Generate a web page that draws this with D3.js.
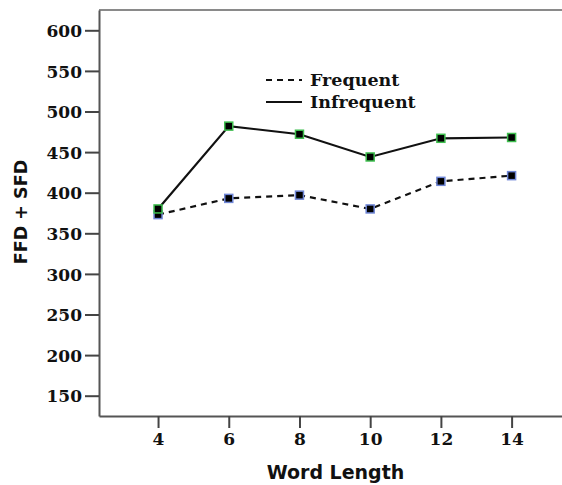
<!DOCTYPE html>
<html><head><meta charset="utf-8">
<script src="https://cdn.jsdelivr.net/npm/d3@7"></script>
<style>body{margin:0;background:#fff}svg{display:block}</style>
</head><body><svg id="c" width="562" height="485"></svg>
<script>
const wordLengths = [4, 6, 8, 10, 12, 14];
const frequent = [373, 393, 397, 380, 414, 421];
const infrequent = [380, 482, 472, 444, 467, 468];
const yTicks = [150, 200, 250, 300, 350, 400, 450, 500, 550, 600];
const seriesNames = ["Frequent", "Infrequent"];

const svg = d3.select("#c");
const x = d3.scaleLinear().domain([2.33, 16.5]).range([99, 600]);
const y = d3.scaleLinear().domain([125, 625]).range([416, 10]);

// top frame line
svg.append("line").attr("x1", 99).attr("x2", 562).attr("y1", 10).attr("y2", 10)
  .attr("stroke", "#8a8a8a").attr("stroke-width", 2);

const yAxis = d3.axisLeft(y).tickValues(yTicks).tickSize(14).tickSizeOuter(0).tickPadding(3);
const gy = svg.append("g").attr("transform", "translate(99,0)").call(yAxis);
gy.select(".domain").attr("stroke", "#555").attr("stroke-width", 2);
gy.selectAll(".tick line").attr("stroke", "#444").attr("stroke-width", 2);
gy.selectAll(".tick text").attr("font-family", "DejaVu Serif").attr("font-weight", "bold")
  .attr("font-size", 17).attr("fill", "#111").attr("dy", "0.36em");

const xAxis = d3.axisBottom(x).tickValues(wordLengths).tickSize(12).tickSizeOuter(0).tickPadding(5);
const gx = svg.append("g").attr("transform", "translate(0,416)").call(xAxis);
gx.select(".domain").attr("stroke", "#555").attr("stroke-width", 2);
gx.selectAll(".tick line").attr("stroke", "#444").attr("stroke-width", 2);
gx.selectAll(".tick text").attr("font-family", "DejaVu Serif").attr("font-weight", "bold")
  .attr("font-size", 17).attr("fill", "#111");

svg.append("text").attr("x", 335.5).attr("y", 479).attr("text-anchor", "middle")
  .attr("font-family", "DejaVu Sans").attr("font-weight", "bold").attr("font-size", 19)
  .attr("fill", "#111").text("Word Length");
svg.append("text").attr("transform", "translate(27,212) rotate(-90)").attr("text-anchor", "middle")
  .attr("font-family", "DejaVu Sans").attr("font-weight", "bold").attr("font-size", 17.5)
  .attr("fill", "#111").text("FFD + SFD");

const line = d3.line().x((d, i) => x(wordLengths[i])).y(d => y(d));
svg.append("path").datum(frequent).attr("d", line).attr("fill", "none")
  .attr("stroke", "#111").attr("stroke-width", 2.2).attr("stroke-dasharray", "6,5");
svg.append("path").datum(infrequent).attr("d", line).attr("fill", "none")
  .attr("stroke", "#111").attr("stroke-width", 2.2);

function markers(data, col) {
  svg.append("g").selectAll("rect").data(data).join("rect")
    .attr("x", (d, i) => x(wordLengths[i]) - 4).attr("y", d => y(d) - 4)
    .attr("width", 8).attr("height", 8)
    .attr("fill", "#000").attr("stroke", col).attr("stroke-width", 1.5);
}
markers(frequent, "#6f86d6");
markers(infrequent, "#3fbf4f");

// legend
const lg = svg.append("g");
lg.append("line").attr("x1", 266).attr("x2", 302).attr("y1", 80).attr("y2", 80)
  .attr("stroke", "#111").attr("stroke-width", 2.2).attr("stroke-dasharray", "6,5");
lg.append("line").attr("x1", 266).attr("x2", 302).attr("y1", 102).attr("y2", 102)
  .attr("stroke", "#111").attr("stroke-width", 2.2);
lg.selectAll("text").data(seriesNames).join("text")
  .attr("x", 310).attr("y", (d, i) => 86 + i * 22)
  .attr("font-family", "DejaVu Serif").attr("font-weight", "bold").attr("font-size", 17.5)
  .attr("fill", "#111").text(d => d);
</script></body></html>
